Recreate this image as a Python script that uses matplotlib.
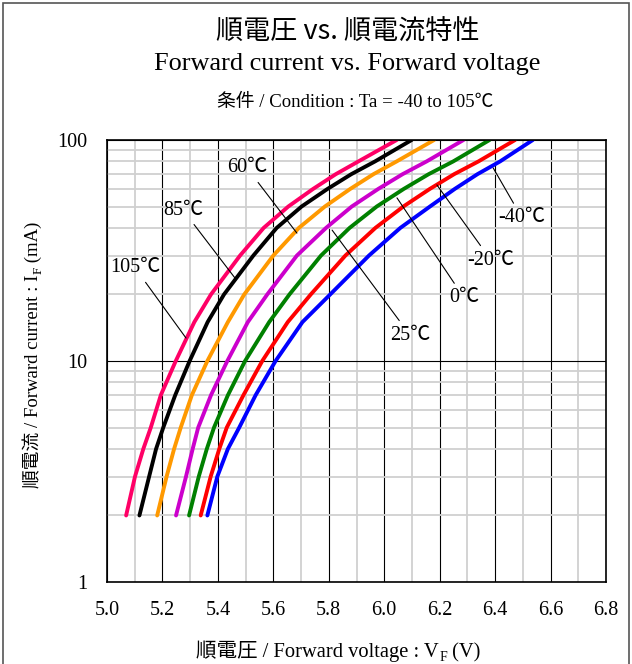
import matplotlib
matplotlib.use("Agg")
import matplotlib.pyplot as plt
from matplotlib.patches import Rectangle
from matplotlib.ticker import FixedLocator, FixedFormatter, MultipleLocator

plt.rcParams['font.family'] = ['Liberation Serif', 'Noto Sans CJK JP']

# 読み取りデータ
current = [2, 3, 4, 5, 7, 10, 15, 20, 30, 40, 50, 60, 70, 80, 100]  # mA
v_105 = [5.069, 5.101, 5.131, 5.158, 5.194, 5.248, 5.315, 5.375, 5.480, 5.565, 5.654,
         5.743, 5.825, 5.907, 6.045]
v_85 = [5.117, 5.152, 5.177, 5.203, 5.246, 5.298, 5.363, 5.422, 5.528, 5.612, 5.702,
        5.795, 5.881, 5.967, 6.099]
v_60 = [5.181, 5.215, 5.242, 5.266, 5.306, 5.362, 5.436, 5.495, 5.600, 5.692, 5.786,
        5.877, 5.961, 6.045, 6.180]
v_25 = [5.249, 5.285, 5.309, 5.329, 5.375, 5.434, 5.508, 5.578, 5.685, 5.790, 5.883,
        5.978, 6.066, 6.153, 6.286]
v_0 = [5.296, 5.331, 5.360, 5.386, 5.436, 5.498, 5.585, 5.658, 5.772, 5.875, 5.973,
       6.070, 6.160, 6.249, 6.380]
v_m20 = [5.338, 5.374, 5.405, 5.432, 5.492, 5.560, 5.652, 5.735, 5.860, 5.968, 6.069,
         6.164, 6.252, 6.340, 6.472]
v_m40 = [5.362, 5.398, 5.436, 5.477, 5.536, 5.608, 5.705, 5.805, 5.945, 6.058, 6.165,
         6.254, 6.336, 6.418, 6.536]

labels = ['105℃', '85℃', '60℃', '25℃', '0℃', '-20℃', '-40℃']
colors = ['#FF0066', 'black', '#FF9900', '#CC00CC', '#008000', '#FF0000', '#0000FF']
series = [v_105, v_85, v_60, v_25, v_0, v_m20, v_m40]

# ラベル位置 (テキスト位置, 線の先)
label_xy = [(5.101, 26.4), (5.274, 48.2), (5.505, 74.7), (6.093, 13.1),
            (6.288, 19.3), (6.385, 28.6), (6.497, 44.4)]
tip_xy = [(5.285, 12.7), (5.462, 23.7), (5.685, 37.9), (5.812, 39.1),
          (6.046, 54.7), (6.190, 62.6), (6.393, 74.7)]

fig = plt.figure(figsize=(6.32, 6.64), dpi=100)
ax = fig.add_axes([0.1693, 0.1235, 0.7896, 0.6657])

ax.set_yscale('log')
ax.set_xlim(5.0, 6.8)
ax.set_ylim(1, 100)

ax.xaxis.set_major_locator(MultipleLocator(0.2))
ax.xaxis.set_minor_locator(MultipleLocator(0.1))
ax.yaxis.set_major_locator(FixedLocator([1, 10, 100]))
ax.yaxis.set_major_formatter(FixedFormatter(['1', '10', '100']))
ax.yaxis.set_minor_locator(FixedLocator([k * d for d in (1, 10) for k in range(2, 10)]))
ax.yaxis.set_minor_formatter(FixedFormatter([]))
ax.xaxis.set_major_formatter(plt.FuncFormatter(lambda v, p: f"{v:.1f}"))

ax.grid(which='minor', color='#d0d0d0', lw=1.3)
ax.grid(which='major', color='black', lw=0.8)
ax.set_axisbelow(True)
ax.tick_params(which='both', length=0, labelsize=14.5)
ax.tick_params(axis='x', pad=14)
ax.tick_params(axis='y', pad=14)
for s in ax.spines.values():
    s.set_linewidth(1.2)

for v, c in zip(series, colors):
    ax.plot(v, current, color=c, lw=2.8, solid_capstyle='round', solid_joinstyle='round')

for lab, txy, pxy in zip(labels, label_xy, tip_xy):
    ax.annotate(lab, xy=pxy, xytext=txy, fontsize=14.5, ha='center', va='center',
                arrowprops=dict(arrowstyle='-', color='black', lw=0.8,
                                shrinkA=2, shrinkB=0))

# 軸ラベル (下付き文字はテキストをつないで作る)
fs = 14.8
t1 = fig.text(196 / 632, 1 - 662 / 664, '順電圧 / Forward voltage : V', fontsize=fs,
              ha='left', va='bottom')
t2 = ax.annotate('F', xy=(1, 0), xycoords=t1, xytext=(0.5, -1.5),
                 textcoords='offset points', fontsize=10, ha='left', va='bottom')
ax.annotate(' (V)', xy=(1, 0), xycoords=(t2, t1), xytext=(0, 0),
            textcoords='offset points', fontsize=fs, ha='left', va='bottom')

fs2 = 13.5
u1 = fig.text(25 / 632, 1 - 488 / 664, '順電流 / Forward current : I', fontsize=fs2,
              rotation=90, ha='left', va='bottom')
u2 = ax.annotate('F', xy=(1, 1), xycoords=u1, xytext=(1.5, 0.5),
                 textcoords='offset points', fontsize=9.5, rotation=90,
                 ha='right', va='bottom')
ax.annotate(' (mA)', xy=(1, 1), xycoords=(u1, u2), xytext=(0, 0),
            textcoords='offset points', fontsize=fs2, rotation=90,
            ha='right', va='bottom')

fig.text(0.551, 0.952, '順電圧 vs. 順電流特性', fontsize=19.5, ha='center', va='center',
         family=['Noto Sans CJK JP'])
fig.text(0.549, 0.904, 'Forward current vs. Forward voltage', fontsize=18.9, ha='center', va='center')
fig.text(0.562, 0.845, '条件 / Condition : Ta = -40 to 105℃', fontsize=13.5, ha='center', va='center')

fig.add_artist(Rectangle((0.004, -0.05), 0.992, 1.046, transform=fig.transFigure,
                         fill=False, edgecolor='#555555', lw=1.2))

fig.savefig('out.png', dpi=100)
